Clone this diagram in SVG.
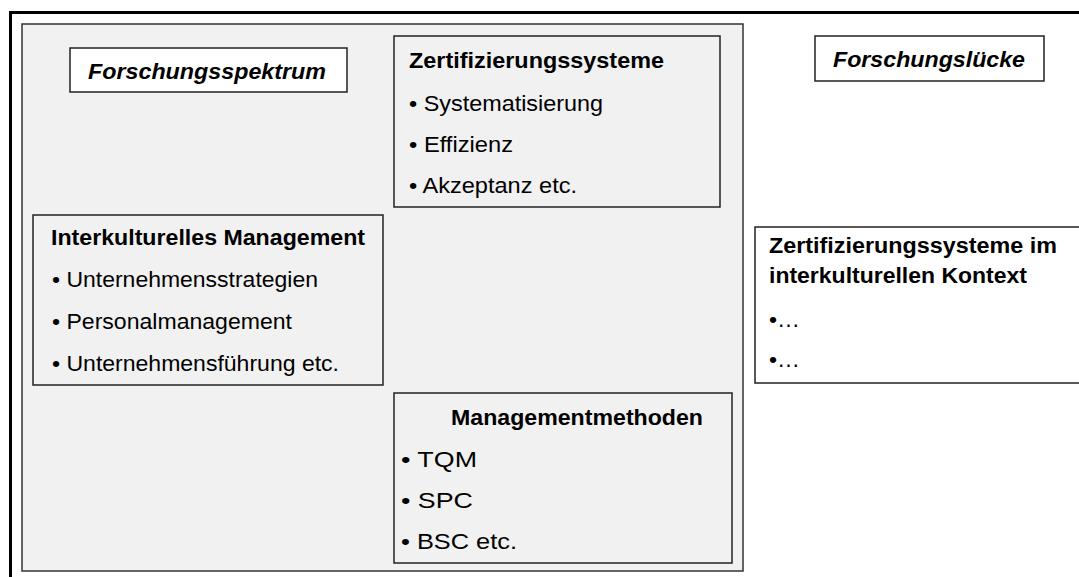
<svg xmlns="http://www.w3.org/2000/svg" width="1079" height="577" viewBox="0 0 1079 577">
<style>
.t{font-family:"Liberation Sans",Arial,sans-serif;font-size:22.5px;fill:#000}
.b{font-weight:bold}
.bi{font-weight:bold;font-style:italic}
.box{stroke:#222;stroke-width:1.5}
.w{fill:#fff}
.g{fill:none}
</style>
<rect width="1079" height="577" fill="#fff"/>
<path d="M10.5 577 V12.5 H1079" fill="none" stroke="#000" stroke-width="3"/>
<g id="panel">
<rect x="22" y="24" width="721" height="547" fill="#f1f1f1" stroke="#333" stroke-width="1.5"/>
</g>
<g id="connectors"></g>
<g id="forschungsspektrum">
<rect class="box w" x="70" y="48" width="277" height="44"/>
<text class="t bi" x="88" y="79" font-size="23" textLength="238" lengthAdjust="spacingAndGlyphs">Forschungsspektrum</text>
</g>
<g id="zertifizierungssysteme">
<rect class="box g" x="394" y="36" width="326" height="171"/>
<text class="t b" x="409" y="68" textLength="255" lengthAdjust="spacingAndGlyphs">Zertifizierungssysteme</text>
<text class="t" x="409" y="111" textLength="194" lengthAdjust="spacingAndGlyphs">• Systematisierung</text>
<text class="t" x="409" y="152" textLength="104" lengthAdjust="spacingAndGlyphs">• Effizienz</text>
<text class="t" x="409" y="193" textLength="168" lengthAdjust="spacingAndGlyphs">• Akzeptanz etc.</text>
</g>
<g id="interkulturelles-management">
<rect class="box g" x="33" y="215" width="350" height="170"/>
<text class="t b" x="51" y="245" textLength="314" lengthAdjust="spacingAndGlyphs">Interkulturelles Management</text>
<text class="t" x="52" y="287" textLength="266" lengthAdjust="spacingAndGlyphs">• Unternehmensstrategien</text>
<text class="t" x="52" y="329" textLength="240" lengthAdjust="spacingAndGlyphs">• Personalmanagement</text>
<text class="t" x="52" y="371" textLength="287" lengthAdjust="spacingAndGlyphs">• Unternehmensführung etc.</text>
</g>
<g id="managementmethoden">
<rect class="box g" x="394" y="393" width="338" height="170"/>
<text class="t b" x="451" y="425" font-size="23.5" textLength="252" lengthAdjust="spacingAndGlyphs">Managementmethoden</text>
<text class="t" x="401" y="467" font-size="23.5" textLength="76" lengthAdjust="spacingAndGlyphs">• TQM</text>
<text class="t" x="401" y="508" font-size="23.5" textLength="72" lengthAdjust="spacingAndGlyphs">• SPC</text>
<text class="t" x="401" y="549" font-size="23.5" textLength="116" lengthAdjust="spacingAndGlyphs">• BSC etc.</text>
</g>
<g id="forschungsluecke">
<rect class="box w" x="815" y="36" width="229" height="45"/>
<text class="t bi" x="833" y="67" font-size="21" textLength="192" lengthAdjust="spacingAndGlyphs">Forschungslücke</text>
</g>
<g id="kontext">
<path class="box w" d="M1080 227 H755 V383 H1080"/>
<text class="t b" x="769" y="253" textLength="288" lengthAdjust="spacingAndGlyphs">Zertifizierungssysteme im</text>
<text class="t b" x="769" y="283" textLength="258" lengthAdjust="spacingAndGlyphs">interkulturellen Kontext</text>
<text class="t" x="769" y="327" textLength="31" lengthAdjust="spacingAndGlyphs">•…</text>
<text class="t" x="769" y="367" textLength="31" lengthAdjust="spacingAndGlyphs">•…</text>
</g>
</svg>
